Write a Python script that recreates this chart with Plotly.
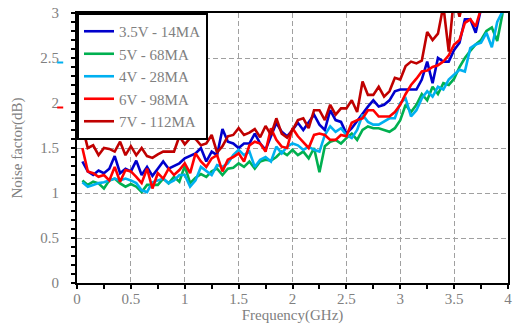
import plotly.graph_objects as go

freq = [0.05, 0.10, 0.15, 0.20, 0.25, 0.30, 0.35, 0.40, 0.45, 0.50,
        0.55, 0.60, 0.65, 0.70, 0.75, 0.80, 0.85, 0.90, 0.95, 1.00,
        1.05, 1.10, 1.15, 1.20, 1.25, 1.30, 1.35, 1.40, 1.45, 1.50,
        1.55, 1.60, 1.65, 1.70, 1.75, 1.80, 1.85, 1.90, 1.95, 2.00,
        2.05, 2.10, 2.15, 2.20, 2.25, 2.30, 2.35, 2.40, 2.45, 2.50,
        2.55, 2.60, 2.65, 2.70, 2.75, 2.80, 2.85, 2.90, 2.95, 3.00,
        3.05, 3.10, 3.15, 3.20, 3.25, 3.30, 3.35, 3.40, 3.45, 3.50,
        3.55, 3.60, 3.65, 3.70, 3.75, 3.80, 3.85, 3.90, 3.95]

nf_35v_14ma = [1.35, 1.24, 1.20, 1.25, 1.22, 1.27, 1.41, 1.22, 1.27, 1.24,
               1.36, 1.20, 1.29, 1.19, 1.27, 1.35, 1.27, 1.30, 1.33, 1.385,
               1.41, 1.44, 1.50, 1.35, 1.46, 1.42, 1.71, 1.57, 1.55, 1.50,
               1.55, 1.55, 1.66, 1.55, 1.48, 1.63, 1.78, 1.68, 1.63, 1.70,
               1.78, 1.70, 1.78, 1.87, 1.76, 1.70, 1.92, 1.81, 1.79, 1.66,
               1.72, 1.80, 1.89, 1.96, 2.03, 1.96, 1.98, 2.03, 2.13, 2.15,
               2.15, 2.15, 2.15, 2.26, 2.46, 2.22, 2.50, 2.46, 2.46, 2.59,
               2.67, 2.93, 2.93, 2.78, 3.05, 3.15, 3.20, 3.30, 3.35]

nf_5v_68ma = [1.14, 1.09, 1.125, 1.107, 1.05, 1.14, 1.16, 1.107, 1.07, 1.10,
              1.07, 1.01, 1.09, 1.09, 1.09, 1.16, 1.107, 1.18, 1.125, 1.30,
              1.11, 1.17, 1.21, 1.18, 1.24, 1.27, 1.20, 1.27, 1.28, 1.33,
              1.29, 1.35, 1.27, 1.35, 1.37, 1.36, 1.40, 1.46, 1.42, 1.48,
              1.42, 1.46, 1.385, 1.50, 1.23, 1.52, 1.57, 1.59, 1.55, 1.61,
              1.66, 1.59, 1.70, 1.74, 1.72, 1.72, 1.70, 1.68, 1.72, 1.81,
              1.98, 1.90, 1.98, 2.10, 2.03, 2.18, 2.10, 2.22, 2.20, 2.27,
              2.40, 2.50, 2.58, 2.65, 2.70, 2.80, 2.84, 2.69, 3.00]

nf_4v_28ma = [1.12, 1.07, 1.09, 1.11, 1.12, 1.14, 1.16, 1.14, 1.16, 1.14,
              1.11, 1.03, 1.01, 1.12, 1.14, 1.16, 1.11, 1.14, 1.20, 1.20,
              1.07, 1.14, 1.29, 1.24, 1.20, 1.31, 1.29, 1.33, 1.42, 1.48,
              1.42, 1.46, 1.29, 1.37, 1.40, 1.35, 1.515, 1.44, 1.515, 1.55,
              1.53, 1.48, 1.515, 1.48, 1.46, 1.645, 1.74, 1.68, 1.72, 1.645,
              1.61, 1.70, 1.87, 1.79, 1.76, 1.76, 1.80, 1.83, 1.83, 2.00,
              2.05, 1.85, 1.92, 2.05, 2.13, 2.07, 2.18, 2.15, 2.26, 2.31,
              2.37, 2.35, 2.61, 2.65, 2.67, 2.78, 2.62, 2.90, 3.02]

nf_6v_98ma = [1.50, 1.24, 1.22, 1.18, 1.20, 1.14, 1.29, 1.125, 1.255, 1.24,
              1.18, 1.11, 1.27, 1.05, 1.22, 1.16, 1.27, 1.20, 1.255, 1.33,
              1.22, 1.44, 1.35, 1.29, 1.385, 1.42, 1.24, 1.37, 1.40, 1.44,
              1.35, 1.53, 1.57, 1.55, 1.46, 1.72, 1.59, 1.515, 1.50, 1.72,
              1.63, 1.56, 1.50, 1.645, 1.66, 1.645, 1.59, 1.59, 1.645, 1.63,
              1.78, 1.81, 1.83, 1.92, 1.92, 1.85, 1.85, 1.85, 1.90, 1.98,
              2.10, 2.20, 2.27, 2.35, 2.36, 2.40, 2.42, 2.46, 2.53, 2.65,
              2.70, 2.89, 2.93, 2.85, 3.05, 3.15, 3.25, 3.30, 3.35]

nf_7v_112ma = [1.74, 1.50, 1.53, 1.42, 1.50, 1.49, 1.46, 1.57, 1.42, 1.52,
               1.42, 1.50, 1.41, 1.39, 1.43, 1.46, 1.46, 1.46, 1.63, 1.54,
               1.61, 1.60, 1.53, 1.55, 1.645, 1.45, 1.52, 1.63, 1.645, 1.72,
               1.645, 1.67, 1.71, 1.62, 1.745, 1.645, 1.83, 1.66, 1.615, 1.70,
               1.81, 1.83, 1.72, 1.92, 1.92, 1.81, 1.98, 1.87, 1.94, 1.94,
               2.03, 1.90, 2.24, 2.09, 2.09, 2.18, 2.07, 2.13, 2.28, 2.26,
               2.41, 2.46, 2.44, 2.47, 2.79, 2.70, 2.77, 3.08, 2.57, 3.20,
               2.96, 3.22, 3.30, 3.35, 3.40, 3.45, 3.50, 3.55, 3.60]

series_names = ["3.5V - 14MA", "5V - 68MA", "4V - 28MA", "6V - 98MA", "7V - 112MA"]
series_values = [nf_35v_14ma, nf_5v_68ma, nf_4v_28ma, nf_6v_98ma, nf_7v_112ma]
series_colors = ["#0000CC", "#00B050", "#00B0F0", "#FF0000", "#C00000"]

FONT = "Liberation Serif"
GRAY = "#808080"

fig = go.Figure()
for name, vals, col in zip(series_names, series_values, series_colors):
    fig.add_trace(go.Scatter(x=freq, y=vals, mode="lines", name=name,
                             line=dict(color=col, width=2.6)))

axis_common = dict(
    showline=True, linecolor="black", linewidth=2, mirror=True,
    ticks="outside", ticklen=4, tickwidth=1.5, tickcolor="black",
    showgrid=True, gridcolor="#A0A0A0", gridwidth=1.4, griddash="5px,3px",
    zeroline=False,
    tickfont=dict(family=FONT, size=15, color=GRAY),
)

fig.update_xaxes(range=[0, 4], dtick=0.5, tick0=0,
                 minor=dict(dtick=0.25, ticks="outside", ticklen=4, tickwidth=1.5,
                            tickcolor="black", showgrid=False),
                 ticklabelstandoff=-3,
                 title=dict(text="Frequency(GHz)", font=dict(family=FONT, size=15, color=GRAY),
                            standoff=2),
                 **axis_common)
fig.update_yaxes(range=[0, 3], dtick=0.5, tick0=0,
                 minor=dict(dtick=0.1, ticks="outside", ticklen=4, tickwidth=1.5,
                            tickcolor="black", showgrid=False),
                 ticklabelstandoff=9,
                 title=dict(text="Noise factor(dB)", font=dict(family=FONT, size=15, color=GRAY),
                            standoff=14),
                 **axis_common)

# small coloured marks under the "2.5" and "2" labels seen in the original
fig.add_shape(type="line", xref="paper", yref="y", x0=-0.046, x1=-0.032, y0=2.45, y1=2.45,
              line=dict(color="#00B0F0", width=2))
fig.add_shape(type="line", xref="paper", yref="y", x0=-0.046, x1=-0.032, y0=1.95, y1=1.95,
              line=dict(color="#FF0000", width=2))

fig.update_layout(
    width=515, height=330,
    margin=dict(l=77, r=3, t=13, b=47),
    plot_bgcolor="white", paper_bgcolor="white",
    showlegend=True,
    legend=dict(x=0, y=1, xanchor="left", yanchor="top",
                bgcolor="white", bordercolor="black", borderwidth=2,
                font=dict(family=FONT, size=15, color=GRAY),
                itemwidth=30, tracegroupgap=0),
)

fig.write_html("out.html")
